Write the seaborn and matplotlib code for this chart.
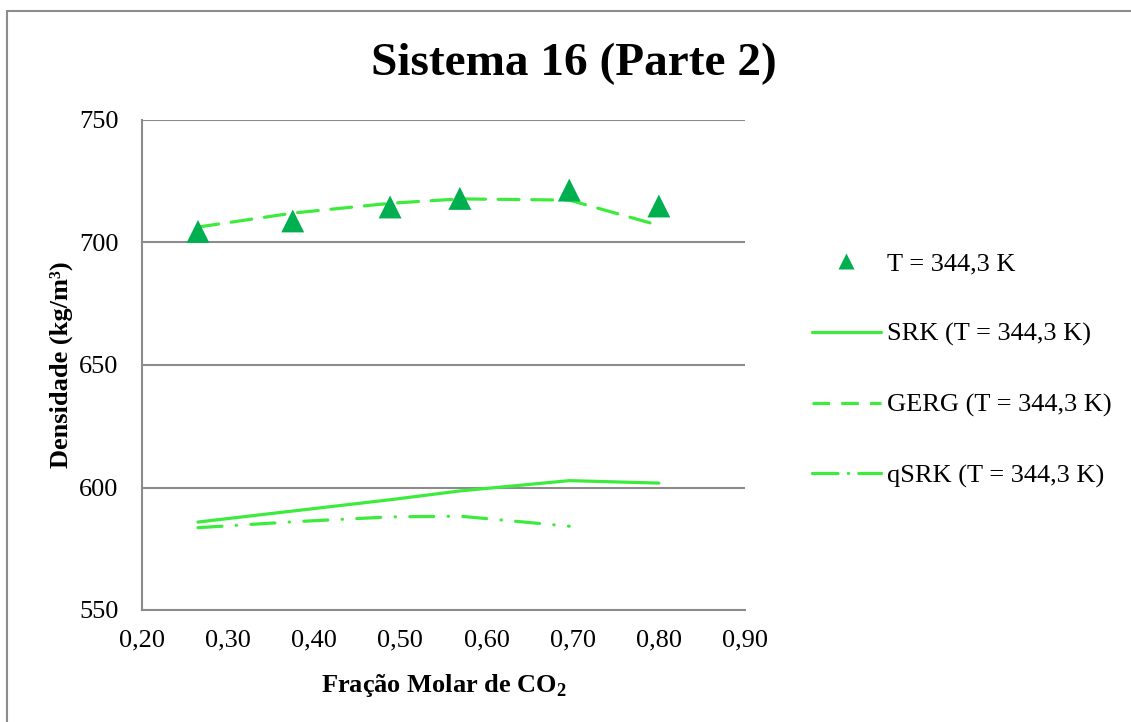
import matplotlib
matplotlib.use("Agg")
import matplotlib.pyplot as plt
import matplotlib.patches as mpatches
from matplotlib.lines import Line2D
from matplotlib.ticker import FuncFormatter, MultipleLocator
import seaborn as sns
import pandas as pd

# CO2 mole fraction and density data (kg/m3) at T = 344.3 K
x_exp = [0.265, 0.375, 0.488, 0.569, 0.696, 0.800]
rho_exp = [704.5, 708.8, 714.5, 718.0, 721.4, 714.9]

x_srk = [0.265, 0.375, 0.488, 0.569, 0.696, 0.800]
rho_srk = [585.9, 590.4, 595.0, 598.6, 602.8, 601.8]

x_gerg = [0.265, 0.375, 0.488, 0.569, 0.696, 0.800]
rho_gerg = [706.3, 712.0, 716.0, 717.8, 717.3, 707.0]

x_qsrk = [0.265, 0.375, 0.488, 0.569, 0.696]
rho_qsrk = [583.6, 586.0, 588.0, 588.3, 584.2]

labels = ["T = 344,3 K", "SRK (T = 344,3 K)", "GERG (T = 344,3 K)", "qSRK (T = 344,3 K)"]

LINE_GREEN = "#3DEB3D"
MARK_GREEN = "#00B050"
GRID_GRAY = "#8C8C8C"

sns.set_style("white")
plt.rcParams["font.family"] = ["Liberation Serif", "DejaVu Serif"]
plt.rcParams["text.color"] = "black"
plt.rcParams["axes.labelcolor"] = "black"
plt.rcParams["xtick.color"] = "black"
plt.rcParams["ytick.color"] = "black"
plt.rcParams["mathtext.fontset"] = "custom"
plt.rcParams["mathtext.rm"] = "Liberation Serif"
plt.rcParams["mathtext.bf"] = "Liberation Serif:bold"

W, H = 1131, 722
fig = plt.figure(figsize=(W / 100, H / 100), dpi=100)
ax = fig.add_axes([142 / W, 1 - 610 / H, (745 - 142) / W, (610 - 120) / H])

df_srk = pd.DataFrame({"x": x_srk, "y": rho_srk})
df_gerg = pd.DataFrame({"x": x_gerg, "y": rho_gerg})
df_qsrk = pd.DataFrame({"x": x_qsrk, "y": rho_qsrk})
df_exp = pd.DataFrame({"x": x_exp, "y": rho_exp})

lw = 2.3
sns.lineplot(data=df_srk, x="x", y="y", ax=ax, color=LINE_GREEN, lw=lw,
             solid_capstyle="round", sort=False, zorder=3)
l_gerg = sns.lineplot(data=df_gerg, x="x", y="y", ax=ax, color=LINE_GREEN, lw=lw,
                      sort=False, zorder=3).lines[-1]
l_gerg.set_dashes((6.5, 4.0))
l_gerg.set_dash_capstyle("round")
l_qsrk = sns.lineplot(data=df_qsrk, x="x", y="y", ax=ax, color=LINE_GREEN, lw=lw,
                      sort=False, zorder=3).lines[-1]
l_qsrk.set_dashes((7.5, 4.5, 0.1, 4.5))
l_qsrk.set_dash_capstyle("round")
sns.scatterplot(data=df_exp, x="x", y="y", ax=ax, marker="^", s=16.5 ** 2,
                color=MARK_GREEN, edgecolor="none", linewidth=0, zorder=4)

ax.set_xlim(0.20, 0.90)
ax.set_ylim(550, 750)
ax.xaxis.set_major_locator(MultipleLocator(0.10))
ax.yaxis.set_major_locator(MultipleLocator(50))
ax.xaxis.set_major_formatter(FuncFormatter(lambda v, p: f"{v:.2f}".replace(".", ",")))
ax.yaxis.set_major_formatter(FuncFormatter(lambda v, p: f"{v:.0f}"))
ax.tick_params(axis="both", length=0, labelsize=19, colors="black")
ax.tick_params(axis="x", pad=14)
ax.tick_params(axis="y", pad=17)

ax.yaxis.grid(True, color=GRID_GRAY, lw=1.5)
ax.set_axisbelow(True)
for side in ("top", "right"):
    ax.spines[side].set_visible(False)
for side in ("left", "bottom"):
    ax.spines[side].set_color(GRID_GRAY)
    ax.spines[side].set_linewidth(1.5)

ax.set_xlabel(r"Fração Molar de CO$_{\mathbf{2}}$", fontsize=19, fontweight="bold",
              labelpad=15, color="black")
ax.set_ylabel("Densidade (kg/m³)", fontsize=19, fontweight="bold", labelpad=4,
              color="black")

fig.text(574 / W, 1 - 64 / H, "Sistema 16 (Parte 2)", ha="center", va="center",
         fontsize=34, fontweight="bold", color="black")

handles = [
    Line2D([], [], ls="none", marker="^", ms=11, color=MARK_GREEN, mec="none"),
    Line2D([], [], color=LINE_GREEN, lw=lw),
    Line2D([], [], color=LINE_GREEN, lw=lw, dashes=(5.5, 3.5)),
    Line2D([], [], color=LINE_GREEN, lw=lw, dashes=(8.0, 3.2, 0.1, 3.2), dash_capstyle="round"),
]
fig.legend(handles, labels, loc="upper left", bbox_to_anchor=(812 / W, 1 - 252 / H),
           frameon=False, fontsize=19, handlelength=2.6, handletextpad=0.25,
           labelspacing=1.78, borderpad=0, borderaxespad=0, labelcolor="black")

# outer chart border (left and top edges visible)
fig.add_artist(mpatches.Rectangle((7 / W, -0.1), 2, (1 - 11 / H) + 0.1,
                                  transform=fig.transFigure, fill=False,
                                  edgecolor=GRID_GRAY, lw=1.5))

fig.savefig("out.png", dpi=100)
